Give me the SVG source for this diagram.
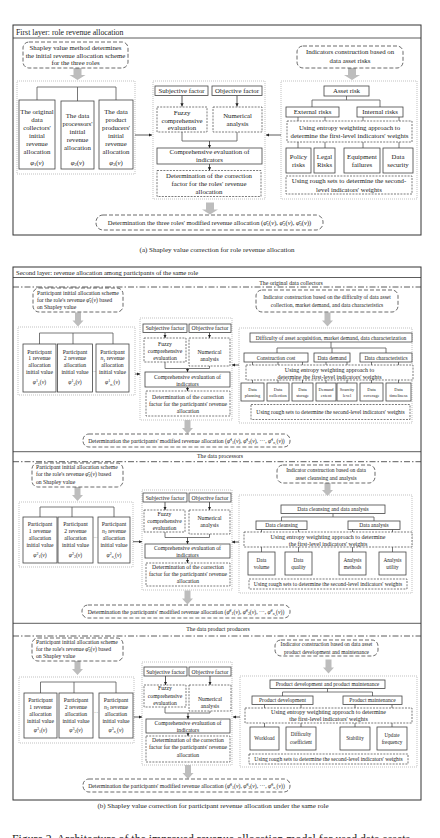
<svg xmlns="http://www.w3.org/2000/svg" width="440" height="838" viewBox="0 0 440 838">
<style>
text{font-family:"Liberation Serif","Times New Roman",serif;fill:#222;text-anchor:middle}
.a{font-size:6.8px}
.b{font-size:5.7px}
.c{font-size:5.5px}
.e{font-size:6px}
.r{font-size:5.6px}
.s{font-size:4.4px}
.q{font-size:5.2px}
.l{text-anchor:start}
.i{font-style:italic}
.sm{font-size:70%}
.frame{fill:none;stroke:#333;stroke-width:1}
.sep{stroke:#333;stroke-width:0.8}
.dd{stroke:#333;stroke-width:0.8;stroke-dasharray:6 2 1.5 2}
.box{fill:#fff;stroke:#444;stroke-width:0.8}
.db{fill:#fff;stroke:#444;stroke-width:0.7;stroke-dasharray:2 1.2}
.rb{fill:#fff;stroke:#444;stroke-width:0.8;stroke-dasharray:4 2}
.ct{fill:none;stroke:#a8a8a8;stroke-width:0.7;stroke-dasharray:1 1}
.ln{fill:none;stroke:#555;stroke-width:0.8}
.ar{fill:none;stroke:#333;stroke-width:0.8;marker-end:url(#ah)}
.ga{fill:#bdbdbd}
</style>
<defs>
<marker id="ah" viewBox="0 0 6 6" refX="6" refY="3" markerWidth="4" markerHeight="4" orient="auto"><path d="M0,0L6,3L0,6z" fill="#222"/></marker>
<path id="gA" d="M-4,0H4V7H8L0,12L-8,7H-4Z"/>
<path id="gB" d="M-3,0H3V8H5.5L0,14L-5.5,8H-3Z"/>
</defs>

<g id="layer1-frame">
<rect class="frame" x="13" y="25" width="408" height="210"/>
<line class="sep" x1="13" y1="38" x2="421" y2="38"/>
<text class="l" x="16" y="34.5" font-size="7.8">First layer: role revenue allocation</text>
</g>
<g id="a-containers">
<rect class="ct" x="17" y="81" width="118" height="93"/>
<rect class="ct" x="153" y="81" width="112" height="118"/>
<rect class="ct" x="281" y="81" width="136" height="118"/>
</g>

<g id="layer2-frame">
<rect class="frame" x="13" y="267" width="408" height="533"/>
<line class="sep" x1="13" y1="277.5" x2="421" y2="277.5"/>
<text class="l" x="16" y="275" font-size="6.6">Second layer: revenue allocation among participants of the same role</text>
<text x="291" y="284.8" font-size="5.8">The original data  collectors</text>
<line class="dd" x1="13" y1="287" x2="421" y2="287"/>
<line class="sep" x1="13" y1="451.7" x2="421" y2="451.7"/>
<text x="220" y="457.5" font-size="5.8">The data processors</text>
<line class="dd" x1="13" y1="461.7" x2="421" y2="461.7"/>
<line class="sep" x1="13" y1="623.3" x2="421" y2="623.3"/>
<text x="218" y="631.3" font-size="5.8">The data product producers</text>
<line class="dd" x1="13" y1="636" x2="421" y2="636"/>
</g>
<g id="b-containers">
<rect class="ct" x="18" y="327" width="117" height="68"/>
<rect class="ct" x="140" y="318" width="92" height="102"/>
<rect class="ct" x="239" y="328" width="173" height="95"/>
<rect class="ct" x="19" y="502" width="114" height="65"/>
<rect class="ct" x="142" y="490" width="90" height="100"/>
<rect class="ct" x="239" y="495" width="173" height="98"/>
<rect class="ct" x="19" y="677" width="115" height="66"/>
<rect class="ct" x="142" y="662" width="90" height="103"/>
<rect class="ct" x="240" y="676" width="177" height="91"/>
</g>

<g id="connectors">
<path class="ln" d="M37,100V87H116V100M77.5,87V101"/>
<path class="ar" d="M135,135H152"/>
<path class="ar" d="M182,95.5V106.5"/>
<path class="ar" d="M237,95.5V106.5"/>
<path class="ln" d="M182,132V141H237V132"/>
<path class="ar" d="M209.5,141V148"/>
<path class="ar" d="M209.5,164V170.5"/>
<path class="ln" d="M346.5,96V100M312,107V100H380V107"/>
<path class="ln" d="M298,117V148M325,117V148M363,117V148M399,117V148"/>
<path class="ar" d="M281,135H266"/>
<use href="#gA" class="ga" x="77.5" y="68"/>
<use href="#gA" class="ga" x="352" y="68"/>
<use href="#gA" class="ga" x="210" y="202.5"/>
<path class="ln" d="M39.5,344V333H113V344M73,333V344"/>
<path class="ar" d="M135,374H140"/>
<path class="ar" d="M165,332.5V338"/>
<path class="ar" d="M209.5,332.5V338"/>
<path class="ln" d="M165,362V368.5H209.5V366"/>
<path class="ar" d="M187.5,368.5V372"/>
<path class="ar" d="M187.5,387V391"/>
<path class="ln" d="M331,342V348M277,353V348H386V353M332,348V353"/>
<path class="ln" d="M252.5,362V383M278,362V383M302.5,362V383M326,362V383M347,362V383M371.5,362V383M398.5,362V383"/>
<path class="ar" d="M239,365H232"/>
<use href="#gB" class="ga" x="78" y="312.5"/>
<use href="#gB" class="ga" x="327.5" y="312.5"/>
<use href="#gB" class="ga" x="187.5" y="420"/>
<path class="ln" d="M40,517V507H114V517M72,507V517"/>
<path class="ar" d="M133,541.7H142"/>
<path class="ar" d="M165,502V510"/>
<path class="ar" d="M209.5,502V510"/>
<path class="ln" d="M165,532V537.5H209.5V534"/>
<path class="ar" d="M187.5,537.5V544"/>
<path class="ar" d="M187.5,558V563"/>
<path class="ln" d="M333,513.5V517M281.5,521V517H374V521"/>
<path class="ln" d="M261.5,529.5V552M298.5,529.5V552M352.5,529.5V552M392.5,529.5V552"/>
<path class="ar" d="M239,542H232"/>
<use href="#gB" class="ga" x="77.5" y="487"/>
<use href="#gB" class="ga" x="327.5" y="482"/>
<use href="#gB" class="ga" x="187.5" y="590.5"/>
<path class="ln" d="M40.5,693V682H116V693M74,682V693"/>
<path class="ar" d="M134,717H142"/>
<path class="ar" d="M165.5,676V685"/>
<path class="ar" d="M210,676V685"/>
<path class="ln" d="M165,707V713H210V711"/>
<path class="ar" d="M188,713V719"/>
<path class="ar" d="M188,733V736"/>
<path class="ln" d="M327.5,688.5V692M282.5,696V692H372.5V696"/>
<path class="ln" d="M264.5,704.5V727M301,704.5V727M355,704.5V727M392,704.5V727"/>
<path class="ar" d="M240,717H233"/>
<use href="#gB" class="ga" x="77.5" y="661"/>
<use href="#gB" class="ga" x="328.5" y="659.5"/>
<use href="#gB" class="ga" x="188" y="765"/>
</g>

<g id="a-shapley">
<rect class="rb" x="23" y="42" width="105" height="26" rx="6"/>
<text class="a" x="75.5" y="49.6">Shapley value method determines<tspan x="75.5" dy="8">the initial revenue allocation scheme</tspan><tspan x="75.5" dy="7.8">for the three roles</tspan></text>
</g>
<g id="a-collectors">
<rect class="box" x="19" y="100" width="36" height="69"/>
<text class="a" x="37" y="114.3">The original<tspan x="37" dy="7.9">data</tspan><tspan x="37" dy="7.9">collectors'</tspan><tspan x="37" dy="7.9">initial</tspan><tspan x="37" dy="7.9">revenue</tspan><tspan x="37" dy="7.9">allocation</tspan></text>
<text class="a" x="37" y="164.5"><tspan class="i">φ</tspan><tspan class="sm" dy="1.5">1</tspan><tspan dy="-1.5">(</tspan><tspan class="i">v</tspan>)</text>
</g>
<g id="a-processors">
<rect class="box" x="61" y="101" width="33" height="68"/>
<text class="a" x="77.5" y="118.3">The data<tspan x="77.5" dy="7.9">processors'</tspan><tspan x="77.5" dy="7.9">initial</tspan><tspan x="77.5" dy="7.9">revenue</tspan><tspan x="77.5" dy="7.9">allocation</tspan></text>
<text class="a" x="77.5" y="164.5"><tspan class="i">φ</tspan><tspan class="sm" dy="1.5">2</tspan><tspan dy="-1.5">(</tspan><tspan class="i">v</tspan>)</text>
</g>
<g id="a-producers">
<rect class="box" x="99" y="100" width="34" height="69"/>
<text class="a" x="116" y="114.3">The data<tspan x="116" dy="7.9">product</tspan><tspan x="116" dy="7.9">producers'</tspan><tspan x="116" dy="7.9">initial</tspan><tspan x="116" dy="7.9">revenue</tspan><tspan x="116" dy="7.9">allocation</tspan></text>
<text class="a" x="116" y="164.5"><tspan class="i">φ</tspan><tspan class="sm" dy="1.5">3</tspan><tspan dy="-1.5">(</tspan><tspan class="i">v</tspan>)</text>
</g>
<g id="a-subjective">
<rect class="box" x="155" y="86" width="53" height="9.5"/>
<text class="a" x="181.5" y="93.1">Subjective factor</text>
</g>
<g id="a-objective">
<rect class="box" x="212" y="86" width="50" height="9.5"/>
<text class="a" x="237" y="93.1">Objective factor</text>
</g>
<g id="a-fuzzy">
<rect class="db" x="157" y="107" width="50" height="25"/>
<text class="a" x="182" y="115.3">Fuzzy<tspan x="182" dy="7.5">comprehensive</tspan><tspan x="182" dy="7.5">evaluation</tspan></text>
</g>
<g id="a-numerical">
<rect class="db" x="213" y="107" width="49" height="25"/>
<text class="a" x="237.5" y="118.3">Numerical<tspan x="237.5" dy="8">analysis</tspan></text>
</g>
<g id="a-comprehensive">
<rect class="box" x="157" y="148" width="105" height="16"/>
<text class="a" x="209.5" y="154.3">Comprehensive evaluation of<tspan x="209.5" dy="7.5">indicators</tspan></text>
</g>
<g id="a-determination">
<rect class="db" x="157" y="170.5" width="104" height="26"/>
<text class="a" x="209" y="177.8">Determination of the correction<tspan x="209" dy="8">factor for the roles' revenue</tspan><tspan x="209" dy="8">allocation</tspan></text>
</g>
<g id="a-indicators">
<rect class="rb" x="297" y="46" width="106" height="22" rx="6"/>
<text class="a" x="350" y="54.3">Indicators construction based on<tspan x="350" dy="8.5">data asset risks</tspan></text>
</g>
<g id="a-assetrisk">
<rect class="box" x="324" y="86" width="45" height="10"/>
<text class="a" x="346.5" y="93.3">Asset risk</text>
</g>
<g id="a-external">
<rect class="box" x="286" y="107" width="53" height="10"/>
<text class="a" x="312.5" y="114.3">External risks</text>
</g>
<g id="a-internal">
<rect class="box" x="357" y="107" width="46" height="10"/>
<text class="a" x="380" y="114.3">Internal risks</text>
</g>
<g id="a-entropy">
<rect class="db" x="287" y="121" width="125" height="21"/>
<text class="a" x="349.5" y="129.8">Using entropy weighting approach to<tspan x="349.5" dy="8">determine the first-level indicators' weights</tspan></text>
</g>
<g id="a-policy">
<rect class="box" x="286" y="148" width="25" height="25"/>
<text class="a" x="298.5" y="159.3">Policy<tspan x="298.5" dy="8">risks</tspan></text>
</g>
<g id="a-legal">
<rect class="box" x="314" y="148" width="21" height="25"/>
<text class="a" x="324.5" y="159.3">Legal<tspan x="324.5" dy="8">Risks</tspan></text>
</g>
<g id="a-equipment">
<rect class="box" x="344" y="148" width="36" height="25"/>
<text class="a" x="362" y="159.3">Equipment<tspan x="362" dy="8">failures</tspan></text>
</g>
<g id="a-security">
<rect class="box" x="383" y="148" width="30" height="25"/>
<text class="a" x="398" y="159.3">Data<tspan x="398" dy="8">security</tspan></text>
</g>
<g id="a-rough">
<rect class="db" x="286" y="176" width="126" height="18"/>
<text class="a" x="349" y="183.2">Using rough sets to determine the second-<tspan x="349" dy="8.3">level indicators' weights</tspan></text>
</g>
<g id="a-final">
<rect class="rb" x="96" y="215" width="227" height="15" rx="7"/>
<text x="209.5" y="224.8" font-size="6.5">Determination the three roles' modified revenue allocation  (<tspan class="i">φ̄</tspan><tspan class="sm" dy="1.4">1</tspan><tspan dy="-1.4">(</tspan><tspan class="i">v</tspan>), <tspan class="i">φ̄</tspan><tspan class="sm" dy="1.4">2</tspan><tspan dy="-1.4">(</tspan><tspan class="i">v</tspan>), <tspan class="i">φ̄</tspan><tspan class="sm" dy="1.4">3</tspan><tspan dy="-1.4">(</tspan><tspan class="i">v</tspan>))</text>
</g>
<text x="217" y="251.5" font-size="7">(a) Shapley value correction for role revenue allocation</text>

<g id="b1-init">
<rect class="rb" x="33" y="288" width="90" height="24" rx="6"/>
<text class="b l" x="37" y="295">Participant initial allocation scheme<tspan x="37" dy="7">for the role's revenue <tspan class="i">φ̄</tspan><tspan class="sm" dy="1.2">1</tspan><tspan dy="-1.2">(</tspan><tspan class="i">v</tspan>) based</tspan><tspan x="37" dy="7">on Shapley value</tspan></text>
</g>
<g id="b1-p1">
<rect class="box" x="23" y="344" width="33" height="48"/>
<text class="b" x="39.5" y="353.7">Participant<tspan x="39.5" dy="6.7">1 revenue</tspan><tspan x="39.5" dy="6.7">allocation</tspan><tspan x="39.5" dy="7.2">initial value</tspan></text>
<text class="b" x="39.5" y="384.3"><tspan class="i">φ</tspan><tspan class="sm" dy="-2">1</tspan><tspan class="sm" dy="3.2">1</tspan><tspan dy="-1.2">(</tspan><tspan class="i">v</tspan>)</text>
</g>
<g id="b1-p2">
<rect class="box" x="57.5" y="344" width="35" height="48"/>
<text class="b" x="75" y="353.7">Participant<tspan x="75" dy="6.7">2 revenue</tspan><tspan x="75" dy="6.7">allocation</tspan><tspan x="75" dy="7.2">initial value</tspan></text>
<text class="b" x="75" y="384.3"><tspan class="i">φ</tspan><tspan class="sm" dy="-2">1</tspan><tspan class="sm" dy="3.2">2</tspan><tspan dy="-1.2">(</tspan><tspan class="i">v</tspan>)</text>
</g>
<text x="94.3" y="373" font-size="4">···</text>
<g id="b1-pn">
<rect class="box" x="96" y="344" width="33" height="48"/>
<text class="b" x="112.5" y="353.7">Participant<tspan x="112.5" dy="6.7"><tspan class="i">n</tspan><tspan class="sm" dy="1.2">1</tspan><tspan dy="-1.2"> revenue</tspan></tspan><tspan x="112.5" dy="6.7">allocation</tspan><tspan x="112.5" dy="7.2">initial value</tspan></text>
<text class="b" x="112.5" y="384.3"><tspan class="i">φ</tspan><tspan class="sm" dy="-2">1</tspan><tspan class="sm i" dy="3.2">n</tspan><tspan font-size="2.8" dy="0.8">1</tspan><tspan dy="-2">(</tspan><tspan class="i">v</tspan>)</text>
</g>
<g id="b1-subjective">
<rect class="box" x="143" y="324" width="44" height="8.5"/>
<text class="b" x="165" y="330.3">Subjective factor</text>
</g>
<g id="b1-objective">
<rect class="box" x="189" y="324" width="42" height="8.5"/>
<text class="b" x="210" y="330.3">Objective factor</text>
</g>
<g id="b1-fuzzy">
<rect class="db" x="144" y="338" width="42" height="24"/>
<text class="b" x="165" y="346">Fuzzy<tspan x="165" dy="7">comprehensive</tspan><tspan x="165" dy="7">evaluation</tspan></text>
</g>
<g id="b1-numerical">
<rect class="db" x="189" y="338" width="41" height="28"/>
<text class="b" x="209.5" y="354">Numerical<tspan x="209.5" dy="7">analysis</tspan></text>
</g>
<g id="b1-comprehensive">
<rect class="box" x="145" y="372" width="85" height="15"/>
<text class="b" x="187.5" y="379">Comprehensive evaluation of<tspan x="187.5" dy="6.8">indicators</tspan></text>
</g>
<g id="b1-determination">
<rect class="db" x="146" y="391" width="84" height="25"/>
<text class="b" x="188" y="399">Determination of the correction<tspan x="188" dy="7">factor for the participants' revenue</tspan><tspan x="188" dy="7">allocation</tspan></text>
</g>
<g id="b1-indicator">
<rect class="rb" x="256" y="290" width="142" height="22" rx="6"/>
<text class="c" x="327" y="299">Indicator construction based on the difficulty of data asset<tspan x="327" dy="8">collection, market demand, and data characteristics</tspan></text>
</g>
<g id="b1-difficulty">
<rect class="box" x="250" y="333" width="162" height="9"/>
<text class="c" x="331" y="339.6">Difficulty of asset acquisition, market demand, data characterization</text>
</g>
<g id="b1-cost">
<rect class="box" x="244" y="353" width="64" height="9"/>
<text class="c" x="276" y="359.6">Construction cost</text>
</g>
<g id="b1-demand">
<rect class="box" x="314" y="353" width="36" height="9"/>
<text class="c" x="332" y="359.6">Data demand</text>
</g>
<g id="b1-characteristics">
<rect class="box" x="360" y="353" width="52" height="9"/>
<text class="c" x="386" y="359.6">Data characteristics</text>
</g>
<g id="b1-entropy">
<rect class="db" x="246" y="365" width="167" height="15"/>
<text class="e" x="329.5" y="372">Using entropy weighting approach to<tspan x="329.5" dy="7">determine the first-level indicators' weights</tspan></text>
</g>
<g id="b1-planning"><rect class="box" x="241" y="383" width="23" height="18"/><text class="s" x="252.5" y="390.5">Data<tspan x="252.5" dy="6.5">planning</tspan></text></g>
<g id="b1-collection"><rect class="box" x="267" y="383" width="22" height="18"/><text class="s" x="278" y="390.5">Data<tspan x="278" dy="6.5">collection</tspan></text></g>
<g id="b1-storage"><rect class="box" x="292" y="383" width="21" height="18"/><text class="s" x="302.5" y="390.5">Data<tspan x="302.5" dy="6.5">storage</tspan></text></g>
<g id="b1-extent"><rect class="box" x="316" y="383" width="20" height="18"/><text class="s" x="326" y="390.5">Demand<tspan x="326" dy="6.5">extent</tspan></text></g>
<g id="b1-scarcity"><rect class="box" x="337" y="383" width="20" height="18"/><text class="s" x="347" y="390.5">Scarcity<tspan x="347" dy="6.5">level</tspan></text></g>
<g id="b1-coverage"><rect class="box" x="360" y="383" width="23" height="18"/><text class="s" x="371.5" y="390.5">Data<tspan x="371.5" dy="6.5">coverage</tspan></text></g>
<g id="b1-timeliness"><rect class="box" x="386" y="383" width="25" height="18"/><text class="s" x="398.5" y="390.5">Data<tspan x="398.5" dy="6.5">timeliness</tspan></text></g>
<g id="b1-rough">
<rect class="db" x="251" y="404.5" width="159" height="15"/>
<text class="r" x="330.5" y="414">Using rough sets to determine the second-level indicators' weights</text>
</g>
<g id="b1-final">
<rect class="rb" x="83" y="434" width="207" height="13" rx="6"/>
<text class="b" x="186.5" y="442.6">Determination the participants' modified revenue allocation (<tspan class="i">φ̄</tspan><tspan class="sm" dy="-2">1</tspan><tspan class="sm" dy="3.2">1</tspan><tspan dy="-1.2">(</tspan><tspan class="i">v</tspan>), <tspan class="i">φ̄</tspan><tspan class="sm" dy="-2">1</tspan><tspan class="sm" dy="3.2">2</tspan><tspan dy="-1.2">(</tspan><tspan class="i">v</tspan>), ···, <tspan class="i">φ̄</tspan><tspan class="sm" dy="-2">1</tspan><tspan class="sm i" dy="3.2">n</tspan><tspan font-size="2.8" dy="0.8">1</tspan><tspan dy="-2">(</tspan><tspan class="i">v</tspan>))</text>
</g>

<g id="b2-init">
<rect class="rb" x="32" y="463" width="91" height="24" rx="6"/>
<text class="b l" x="36" y="469">Participant initial allocation scheme<tspan x="36" dy="7">for the role's revenue <tspan class="i">φ̄</tspan><tspan class="sm" dy="1.2">2</tspan><tspan dy="-1.2">(</tspan><tspan class="i">v</tspan>)  based</tspan><tspan x="36" dy="7.5">on Shapley value</tspan></text>
</g>
<g id="b2-p1">
<rect class="box" x="23" y="517" width="34" height="46"/>
<text class="b" x="40" y="526">Participant<tspan x="40" dy="7">1 revenue</tspan><tspan x="40" dy="7">allocation</tspan><tspan x="40" dy="7">initial value</tspan></text>
<text class="b" x="40" y="557"><tspan class="i">φ</tspan><tspan class="sm" dy="-2">2</tspan><tspan class="sm" dy="3.2">1</tspan><tspan dy="-1.2">(</tspan><tspan class="i">v</tspan>)</text>
</g>
<g id="b2-p2">
<rect class="box" x="58" y="517" width="35" height="46"/>
<text class="b" x="75.5" y="526">Participant<tspan x="75.5" dy="7">2 revenue</tspan><tspan x="75.5" dy="7">allocation</tspan><tspan x="75.5" dy="7">initial value</tspan></text>
<text class="b" x="75.5" y="557"><tspan class="i">φ</tspan><tspan class="sm" dy="-2">2</tspan><tspan class="sm" dy="3.2">2</tspan><tspan dy="-1.2">(</tspan><tspan class="i">v</tspan>)</text>
</g>
<text x="95.5" y="539" font-size="4">···</text>
<g id="b2-pn">
<rect class="box" x="98" y="517" width="32" height="46"/>
<text class="b" x="114" y="526">Participant<tspan x="114" dy="7"><tspan class="i">n</tspan><tspan class="sm" dy="1.2">2</tspan><tspan dy="-1.2"> revenue</tspan></tspan><tspan x="114" dy="7">allocation</tspan><tspan x="114" dy="7">initial value</tspan></text>
<text class="b" x="114" y="557"><tspan class="i">φ</tspan><tspan class="sm" dy="-2">2</tspan><tspan class="sm i" dy="3.2">n</tspan><tspan font-size="2.8" dy="0.8">2</tspan><tspan dy="-2">(</tspan><tspan class="i">v</tspan>)</text>
</g>
<g id="b2-subjective">
<rect class="box" x="143" y="493" width="44" height="9"/>
<text class="b" x="165" y="499.6">Subjective factor</text>
</g>
<g id="b2-objective">
<rect class="box" x="189" y="493" width="42" height="9"/>
<text class="b" x="210" y="499.6">Objective factor</text>
</g>
<g id="b2-fuzzy">
<rect class="db" x="144" y="510" width="41" height="22"/>
<text class="b" x="164.5" y="516">Fuzzy<tspan x="164.5" dy="7.3">comprehensive</tspan><tspan x="164.5" dy="7">evaluation</tspan></text>
</g>
<g id="b2-numerical">
<rect class="db" x="189" y="510" width="41" height="24"/>
<text class="b" x="209.5" y="520">Numerical<tspan x="209.5" dy="7">analysis</tspan></text>
</g>
<g id="b2-comprehensive">
<rect class="box" x="145" y="544" width="85" height="14"/>
<text class="b" x="187.5" y="549.5">Comprehensive evaluation of<tspan x="187.5" dy="7">indicators</tspan></text>
</g>
<g id="b2-determination">
<rect class="db" x="146" y="563" width="84" height="23"/>
<text class="b" x="188" y="569">Determination of the correction<tspan x="188" dy="7">factor for the participants' revenue</tspan><tspan x="188" dy="7">allocation</tspan></text>
</g>
<g id="b2-indicator">
<rect class="rb" x="277" y="465" width="98" height="18" rx="6"/>
<text class="c" x="326" y="472">Indicator construction based on data<tspan x="326" dy="8">asset cleansing and analysis</tspan></text>
</g>
<g id="b2-cleananalysis">
<rect class="box" x="281" y="505" width="104" height="8.5"/>
<text class="c" x="333" y="511.2">Data cleansing and data analysis</text>
</g>
<g id="b2-cleansing">
<rect class="box" x="256" y="521" width="51" height="8.5"/>
<text class="c" x="281.5" y="527.2">Data cleansing</text>
</g>
<g id="b2-analysis">
<rect class="box" x="348" y="521" width="52" height="8.5"/>
<text class="c" x="374" y="527.2">Data analysis</text>
</g>
<g id="b2-entropy">
<rect class="db" x="244" y="532" width="168" height="15"/>
<text class="e" x="328" y="539">Using entropy weighting approach to determine<tspan x="328" dy="7">the first-level indicators' weights</tspan></text>
</g>
<g id="b2-volume"><rect class="box" x="248" y="552" width="27" height="23"/><text class="q" x="261.5" y="561.8">Data<tspan x="261.5" dy="7">volume</tspan></text></g>
<g id="b2-quality"><rect class="box" x="285" y="552" width="27" height="23"/><text class="q" x="298.5" y="561.8">Data<tspan x="298.5" dy="7">quality</tspan></text></g>
<g id="b2-methods"><rect class="box" x="339" y="552" width="27" height="23"/><text class="q" x="352.5" y="561.8">Analysis<tspan x="352.5" dy="7">methods</tspan></text></g>
<g id="b2-utility"><rect class="box" x="379" y="552" width="27" height="23"/><text class="q" x="392.5" y="561.8">Analysis<tspan x="392.5" dy="7">utility</tspan></text></g>
<g id="b2-rough">
<rect class="db" x="249" y="579" width="158" height="10"/>
<text class="r" x="328" y="586">Using rough sets to determine the second-level indicators' weights</text>
</g>
<g id="b2-final">
<rect class="rb" x="82" y="605" width="208" height="13" rx="6"/>
<text class="b" x="186" y="613.5">Determination the participants' modified revenue allocation (<tspan class="i">φ̄</tspan><tspan class="sm" dy="-2">2</tspan><tspan class="sm" dy="3.2">1</tspan><tspan dy="-1.2">(</tspan><tspan class="i">v</tspan>), <tspan class="i">φ̄</tspan><tspan class="sm" dy="-2">2</tspan><tspan class="sm" dy="3.2">2</tspan><tspan dy="-1.2">(</tspan><tspan class="i">v</tspan>), ···, <tspan class="i">φ̄</tspan><tspan class="sm" dy="-2">2</tspan><tspan class="sm i" dy="3.2">n</tspan><tspan font-size="2.8" dy="0.8">2</tspan><tspan dy="-2">(</tspan><tspan class="i">v</tspan>))</text>
</g>

<g id="b3-init">
<rect class="rb" x="32" y="638" width="91" height="23" rx="6"/>
<text class="b l" x="36" y="644">Participant initial allocation scheme<tspan x="36" dy="7">for the role's revenue <tspan class="i">φ̄</tspan><tspan class="sm" dy="1.2">3</tspan><tspan dy="-1.2">(</tspan><tspan class="i">v</tspan>) based</tspan><tspan x="36" dy="7">on Shapley value</tspan></text>
</g>
<g id="b3-p1">
<rect class="box" x="24" y="693" width="33" height="45"/>
<text class="b" x="40.5" y="702">Participant<tspan x="40.5" dy="7">1 revenue</tspan><tspan x="40.5" dy="6.5">allocation</tspan><tspan x="40.5" dy="7.5">initial value</tspan></text>
<text class="b" x="40.5" y="732"><tspan class="i">φ</tspan><tspan class="sm" dy="-2">3</tspan><tspan class="sm" dy="3.2">1</tspan><tspan dy="-1.2">(</tspan><tspan class="i">v</tspan>)</text>
</g>
<g id="b3-p2">
<rect class="box" x="59" y="693" width="34" height="45"/>
<text class="b" x="76" y="702">Participant<tspan x="76" dy="7">2 revenue</tspan><tspan x="76" dy="6.5">allocation</tspan><tspan x="76" dy="7.5">initial value</tspan></text>
<text class="b" x="76" y="732"><tspan class="i">φ</tspan><tspan class="sm" dy="-2">3</tspan><tspan class="sm" dy="3.2">2</tspan><tspan dy="-1.2">(</tspan><tspan class="i">v</tspan>)</text>
</g>
<text x="96" y="714" font-size="4">···</text>
<g id="b3-pn">
<rect class="box" x="99" y="693" width="34" height="45"/>
<text class="b" x="116" y="702">Participant<tspan x="116" dy="7"><tspan class="i">n</tspan><tspan class="sm" dy="1.2">3</tspan><tspan dy="-1.2"> revenue</tspan></tspan><tspan x="116" dy="6.5">allocation</tspan><tspan x="116" dy="7.5">initial value</tspan></text>
<text class="b" x="116" y="732"><tspan class="i">φ</tspan><tspan class="sm" dy="-2">3</tspan><tspan class="sm i" dy="3.2">n</tspan><tspan font-size="2.8" dy="0.8">3</tspan><tspan dy="-2">(</tspan><tspan class="i">v</tspan>)</text>
</g>
<g id="b3-subjective">
<rect class="box" x="144" y="667" width="43" height="9"/>
<text class="b" x="165.5" y="673.6">Subjective factor</text>
</g>
<g id="b3-objective">
<rect class="box" x="189" y="667" width="42" height="9"/>
<text class="b" x="210" y="673.6">Objective factor</text>
</g>
<g id="b3-fuzzy">
<rect class="db" x="144" y="685" width="42" height="22"/>
<text class="b" x="165" y="690.3">Fuzzy<tspan x="165" dy="7.5">comprehensive</tspan><tspan x="165" dy="7.3">evaluation</tspan></text>
</g>
<g id="b3-numerical">
<rect class="db" x="189" y="685" width="42" height="26"/>
<text class="b" x="210" y="700.5">Numerical<tspan x="210" dy="7.3">analysis</tspan></text>
</g>
<g id="b3-comprehensive">
<rect class="box" x="146" y="719" width="84" height="14"/>
<text class="b" x="188" y="724.7">Comprehensive evaluation of<tspan x="188" dy="7.2">indicators</tspan></text>
</g>
<g id="b3-determination">
<rect class="db" x="146" y="736" width="84" height="26"/>
<text class="b" x="188" y="741.5">Determination of the correction<tspan x="188" dy="7.5">factor for the participants' revenue</tspan><tspan x="188" dy="8">allocation</tspan></text>
</g>
<g id="b3-indicator">
<rect class="rb" x="275" y="640" width="103" height="16" rx="6"/>
<text class="c" x="326.5" y="646">Indicator construction based on data asset<tspan x="326.5" dy="7.6">product development and maintenance</tspan></text>
</g>
<g id="b3-devmaint">
<rect class="box" x="270" y="680" width="115" height="8.5"/>
<text class="c" x="327.5" y="686.2">Product development and product maintenance</text>
</g>
<g id="b3-development">
<rect class="box" x="252" y="696" width="61" height="8.5"/>
<text class="c" x="282.5" y="702.2">Product development</text>
</g>
<g id="b3-maintenance">
<rect class="box" x="343" y="696" width="59" height="8.5"/>
<text class="c" x="372.5" y="702.2">Product maintenance</text>
</g>
<g id="b3-entropy">
<rect class="db" x="245" y="708" width="167" height="15"/>
<text class="e" x="328.5" y="714">Using entropy weighting approach to determine<tspan x="328.5" dy="7">the first-level indicators' weights</tspan></text>
</g>
<g id="b3-workload"><rect class="box" x="250" y="727" width="29" height="23"/><text class="q" x="264.5" y="740.3">Workload</text></g>
<g id="b3-difficulty"><rect class="box" x="286" y="727" width="30" height="23"/><text class="q" x="301" y="736.3">Difficulty<tspan x="301" dy="7.3">coefficient</tspan></text></g>
<g id="b3-stability"><rect class="box" x="340" y="727" width="30" height="23"/><text class="q" x="355" y="740.3">Stability</text></g>
<g id="b3-update"><rect class="box" x="377" y="727" width="30" height="23"/><text class="q" x="392" y="736.5">Update<tspan x="392" dy="7">frequency</tspan></text></g>
<g id="b3-rough">
<rect class="db" x="249" y="754" width="159" height="10"/>
<text class="r" x="328.5" y="761">Using rough sets to determine the second-level indicators' weights</text>
</g>
<g id="b3-final">
<rect class="rb" x="83" y="779" width="207" height="13" rx="6"/>
<text class="b" x="186.5" y="787.8">Determination the participants' modified revenue allocation (<tspan class="i">φ̄</tspan><tspan class="sm" dy="-2">3</tspan><tspan class="sm" dy="3.2">1</tspan><tspan dy="-1.2">(</tspan><tspan class="i">v</tspan>), <tspan class="i">φ̄</tspan><tspan class="sm" dy="-2">3</tspan><tspan class="sm" dy="3.2">2</tspan><tspan dy="-1.2">(</tspan><tspan class="i">v</tspan>), ···, <tspan class="i">φ̄</tspan><tspan class="sm" dy="-2">3</tspan><tspan class="sm i" dy="3.2">n</tspan><tspan font-size="2.8" dy="0.8">3</tspan><tspan dy="-2">(</tspan><tspan class="i">v</tspan>))</text>
</g>

<text x="213" y="807.5" font-size="7">(b) Shapley value correction for participant revenue allocation under the same role</text>
<text class="l" x="12" y="843" font-size="11.5" textLength="398" lengthAdjust="spacingAndGlyphs">Figure 2.   Architecture of the improved revenue allocation model for used data assets</text>
</svg>
